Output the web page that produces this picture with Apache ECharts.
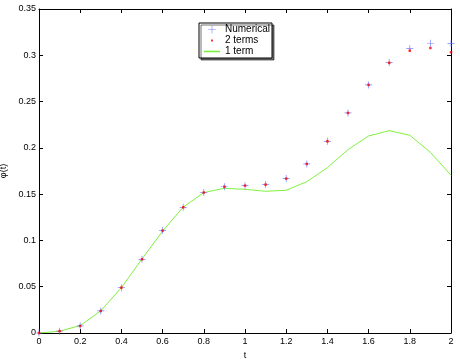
<!DOCTYPE html>
<html>
<head>
<meta charset="utf-8">
<script src="https://cdn.jsdelivr.net/npm/echarts@6/dist/echarts.min.js"></script>
<style>
  html, body { margin: 0; padding: 0; background: #fff; }
  #main { width: 460px; height: 359px; }
</style>
</head>
<body>
<div id="main"></div>
<script>
var tValues = [0, 0.1, 0.2, 0.3, 0.4, 0.5, 0.6, 0.7, 0.8, 0.9, 1.0, 1.1, 1.2, 1.3, 1.4, 1.5, 1.6, 1.7, 1.8, 1.9, 2.0];
var numerical = [0, 0.002, 0.0076, 0.0238, 0.049, 0.0796, 0.1106, 0.1358, 0.1517, 0.158, 0.1592, 0.1603, 0.1668, 0.1826, 0.2071, 0.2377, 0.268, 0.2921, 0.3072, 0.313, 0.3126];
var twoTerms = [0, 0.002, 0.0076, 0.0238, 0.049, 0.0796, 0.1106, 0.1358, 0.1517, 0.158, 0.1592, 0.1603, 0.1668, 0.1826, 0.2071, 0.2377, 0.268, 0.2918, 0.305, 0.3079, 0.3032];
var oneTerm = [0, 0.002, 0.008, 0.024, 0.049, 0.08, 0.11, 0.136, 0.1517, 0.1563, 0.1552, 0.1531, 0.1542, 0.1635, 0.1786, 0.1981, 0.2128, 0.2186, 0.2136, 0.1952, 0.1704];

function pairs(ys) {
    var out = [];
    for (var i = 0; i < tValues.length; i++) {
        out.push([tValues[i], ys[i]]);
    }
    return out;
}

var plusPath = 'path://M4.5,0H5.5V4.5H10V5.5H5.5V10H4.5V5.5H0V4.5H4.5Z';
// legend icons: tiny corner points keep the bounding box so the mark stays small
var legendPlus = 'path://M0,0L0.01,0L0,0.01Z M14,14L13.99,14L14,13.99Z M6.6,2H7.4V6.6H12V7.4H7.4V12H6.6V7.4H2V6.6H6.6Z';
var dotIcon = 'path://M0,0L0.01,0L0,0.01Z M10,10L9.99,10L10,9.99Z M4.1,4.1H5.9V5.9H4.1Z';
var lineIcon = 'path://M0,0H16V1.6H0Z';
var font = 'Liberation Sans, Arial, Helvetica, sans-serif';

var chart = echarts.init(document.getElementById('main'));

var axisCommon = {
    axisLine: { show: true, onZero: false, lineStyle: { color: '#000', width: 1 } },
    axisTick: { show: true, inside: true, length: 4, lineStyle: { color: '#000' } },
    splitLine: { show: false },
    axisLabel: { color: '#000', fontSize: 9, fontFamily: font }
};

var options = {
    animation: false,
    backgroundColor: '#fff',
    grid: { left: 39, right: 9, top: 9, bottom: 26, containLabel: false, outerBoundsMode: 'none' },
    legend: {
        orient: 'vertical',
        left: 199,
        top: 23,
        padding: [1, 2, 1, 5],
        itemGap: 0,
        itemWidth: 16,
        itemHeight: 11,
        backgroundColor: '#fff',
        borderColor: '#000',
        borderWidth: 1,
        borderRadius: 0,
        shadowColor: 'rgba(0,0,0,0.55)',
        shadowOffsetX: 2,
        shadowOffsetY: 2,
        shadowBlur: 0,
        textStyle: { fontSize: 10, fontFamily: font, color: '#000', lineHeight: 11 },
        data: [
            { name: 'Numerical', icon: legendPlus },
            { name: '2 terms', icon: dotIcon },
            { name: '1 term', icon: lineIcon }
        ]
    },
    xAxis: [
        Object.assign({}, axisCommon, {
            type: 'value', min: 0, max: 2, interval: 0.2,
            name: 't', nameLocation: 'middle', nameGap: 15,
            nameTextStyle: { fontSize: 9, fontFamily: font, color: '#000' },
            axisLabel: { color: '#000', fontSize: 9, fontFamily: font, margin: 4 }
        }),
        Object.assign({}, axisCommon, {
            type: 'value', min: 0, max: 2, interval: 0.2, position: 'top',
            axisLabel: { show: false }
        })
    ],
    yAxis: [
        Object.assign({}, axisCommon, {
            type: 'value', min: 0, max: 0.35, interval: 0.05,
            name: 'φ(t)', nameLocation: 'middle', nameGap: 31,
            nameTextStyle: { fontSize: 9, fontFamily: font, color: '#000' },
            axisLabel: { color: '#000', fontSize: 9, fontFamily: font, margin: 3 }
        }),
        Object.assign({}, axisCommon, {
            type: 'value', min: 0, max: 0.35, interval: 0.05, position: 'right',
            axisLabel: { show: false }
        })
    ],
    series: [
        {
            name: '1 term',
            type: 'line',
            data: pairs(oneTerm),
            symbol: 'none',
            lineStyle: { color: '#80f040', width: 1 },
            itemStyle: { color: '#80f040' },
            z: 1
        },
        {
            name: 'Numerical',
            type: 'scatter',
            data: pairs(numerical),
            symbol: plusPath,
            symbolSize: 7,
            itemStyle: { color: '#6070ff', opacity: 0.85 },
            z: 2
        },
        {
            name: '2 terms',
            type: 'scatter',
            data: pairs(twoTerms),
            symbol: 'rect',
            symbolSize: 2.5,
            itemStyle: { color: '#ff0000' },
            z: 3
        }
    ]
};

chart.setOption(options);
</script>
</body>
</html>
